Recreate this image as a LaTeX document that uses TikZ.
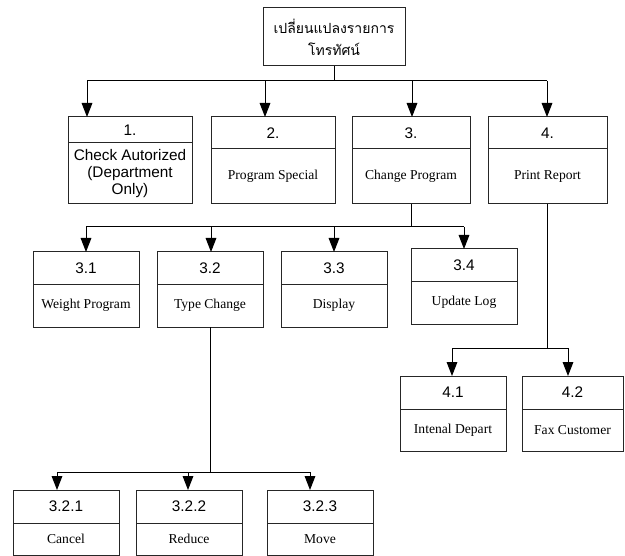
\documentclass[tikz,border=0pt]{standalone}
\usepackage{fontspec}
\setmainfont{Liberation Serif}
\setsansfont{Liberation Sans}
\newfontfamily\thaifont[Script=Thai]{Loma}
\usetikzlibrary{arrows.meta, positioning}
\newcommand{\numfont}{\sffamily\fontsize{11.5}{12.75}\selectfont}
\newcommand{\namefont}{\rmfamily\fontsize{10.2}{12}\selectfont}
\tikzstyle{arrow}   = [-{Triangle[length=10.5pt,width=8pt]}]
\tikzstyle{topbox}  = [rectangle, draw=black!85, minimum width=106.5pt, minimum height=43.5pt, font=\thaifont\fontsize{10.5}{16.5}\selectfont]
\tikzstyle{head}    = [rectangle, draw=black!85, outer sep=0pt, inner sep=0pt, anchor=north west, font=\numfont]
\tikzstyle{body}    = [rectangle, draw=black!85, outer sep=0pt, inner sep=0pt, font=\namefont]
\tikzset{every node/.style={align=center}}

\begin{document}
\begin{tikzpicture}[x=0.75pt, y=-0.75pt, line width=0.75pt]
    \useasboundingbox (0,0) rectangle (625,556);

    \node (root) at (334,37) [topbox] {เปลี่ยนแปลงรายการ\\โทรทัศน์};

    % level 1
    \node (n1) at (68,117)  [head, minimum width=93pt, minimum height=19.5pt] {1.};
    \node (t1) [body, below=0pt of n1, minimum width=93pt, minimum height=45.75pt, font=\numfont] {Check Autorized\\(Department\\Only)};
    \node (n2) at (211,117) [head, minimum width=93pt, minimum height=24pt] {2.};
    \node (t2) [body, below=0pt of n2, minimum width=93pt, minimum height=41.25pt] {Program Special};
    \node (n3) at (352,117) [head, minimum width=88.5pt, minimum height=24pt] {3.};
    \node (t3) [body, below=0pt of n3, minimum width=88.5pt, minimum height=41.25pt] {Change Program};
    \node (n4) at (488,117) [head, minimum width=89.25pt, minimum height=24pt] {4.};
    \node (t4) [body, below=0pt of n4, minimum width=89.25pt, minimum height=41.25pt] {Print Report};

    % level 2
    \node (n31) at (33,252)  [head, minimum width=79.5pt, minimum height=24pt] {3.1};
    \node (t31) [body, below=0pt of n31, minimum width=79.5pt, minimum height=32.25pt] {Weight Program};
    \node (n32) at (157,252) [head, minimum width=79.5pt, minimum height=24pt] {3.2};
    \node (t32) [body, below=0pt of n32, minimum width=79.5pt, minimum height=32.25pt] {Type Change};
    \node (n33) at (281,252) [head, minimum width=79.5pt, minimum height=24pt] {3.3};
    \node (t33) [body, below=0pt of n33, minimum width=79.5pt, minimum height=32.25pt] {Display};
    \node (n34) at (411,249) [head, minimum width=79.5pt, minimum height=24pt] {3.4};
    \node (t34) [body, below=0pt of n34, minimum width=79.5pt, minimum height=32.25pt] {Update Log};

    \node (n41) at (400,376) [head, minimum width=79.5pt, minimum height=24.75pt] {4.1};
    \node (t41) [body, below=0pt of n41, minimum width=79.5pt, minimum height=31.5pt] {Intenal Depart};
    \node (n42) at (522,376) [head, minimum width=75.75pt, minimum height=24.75pt] {4.2};
    \node (t42) [body, below=0pt of n42, minimum width=75.75pt, minimum height=31.5pt] {Fax Customer};

    % level 3
    \node (n321) at (13,490)  [head, minimum width=79.5pt, minimum height=24.75pt] {3.2.1};
    \node (t321) [body, below=0pt of n321, minimum width=79.5pt, minimum height=24pt] {Cancel};
    \node (n322) at (136,490) [head, minimum width=79.5pt, minimum height=24.75pt] {3.2.2};
    \node (t322) [body, below=0pt of n322, minimum width=79.5pt, minimum height=24pt] {Reduce};
    \node (n323) at (267,490) [head, minimum width=79.5pt, minimum height=24.75pt] {3.2.3};
    \node (t323) [body, below=0pt of n323, minimum width=79.5pt, minimum height=24pt] {Move};

    % connectors
    \coordinate (r1) at (87,81);
    \coordinate (r2) at (265,81);
    \coordinate (r3) at (412,81);
    \coordinate (r4) at (547,81);
    \draw (root) -- (root |- r1);
    \draw (r1) -- (r4);
    \foreach \c/\n in {r1/n1, r2/n2, r3/n3, r4/n4}
        \draw [arrow] (\c) -- (\c |- \n.north);

    \coordinate (s1) at (86,227);
    \coordinate (s2) at (211,227);
    \coordinate (s3) at (334,227);
    \coordinate (s4) at (464,227);
    \draw (t3) -- (t3 |- s1);
    \draw (s1) -- (s4);
    \foreach \c/\n in {s1/n31, s2/n32, s3/n33, s4/n34}
        \draw [arrow] (\c) -- (\c |- \n.north);

    \coordinate (u1) at (452,348);
    \coordinate (u2) at (568,348);
    \draw (t4) -- (t4 |- u1);
    \draw (u1) -- (u2);
    \foreach \c/\n in {u1/n41, u2/n42}
        \draw [arrow] (\c) -- (\c |- \n.north);

    \coordinate (v1) at (57,472);
    \coordinate (v2) at (188,472);
    \coordinate (v3) at (310,472);
    \draw (t32) -- (t32 |- v1);
    \draw (v1) -- (v3);
    \foreach \c/\n in {v1/n321, v2/n322, v3/n323}
        \draw [arrow] (\c) -- (\c |- \n.north);
\end{tikzpicture}
\end{document}
